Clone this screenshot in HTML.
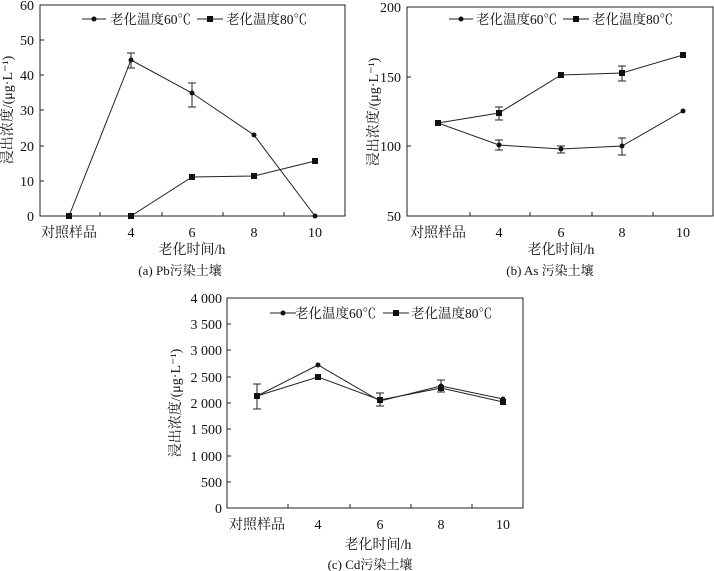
<!DOCTYPE html>
<html><head><meta charset="utf-8"><style>
html,body{margin:0;padding:0;background:#fff;}
svg{display:block;font-family:"Liberation Serif","Noto Serif CJK SC","Noto Sans CJK SC",serif;}
text{fill:#111;}
</style></head><body>
<svg width="714" height="571" viewBox="0 0 714 571" xmlns="http://www.w3.org/2000/svg">
<g stroke="#222" fill="none" stroke-width="1">
<rect x="40" y="5" width="305" height="211"/>
<path d="M40 40h4M40 75h4M40 110h4M40 146h4M40 181h4M100 216v-4M162 216v-4M223 216v-4M284 216v-4"/>
<polyline points="69,216 131,60 192,93 254,135 315,216"/>
<polyline points="69,216 131,216 192,177 254,176 315,161"/>
<path d="M131,53V68M127,53h8M127,68h8M192,83V107M188,83h8M188,107h8"/>
<rect x="407" y="7" width="306" height="209"/>
<path d="M407 77h4M407 146h4M470 216v-4M530 216v-4M592 216v-4M653 216v-4"/>
<polyline points="438,123 499,145 561,149 622,146 683,111"/>
<polyline points="438,123 499,113 561,75 622,73 683,55"/>
<path d="M499,107V120M495,107h8M495,120h8M499,140V150M495,140h8M495,150h8M561,146V153M557,146h8M557,153h8M622,138V155M618,138h8M618,155h8M622,66V81M618,66h8M618,81h8"/>
<rect x="227" y="298" width="296" height="210"/>
<path d="M227 324h4M227 350h4M227 377h4M227 403h4M227 429h4M227 456h4M227 482h4M288 508v-4M350 508v-4M411 508v-4M472 508v-4"/>
<polyline points="257,396 318,365 380,401 441,386 503,399"/>
<polyline points="257,396 318,377 380,400 441,388 503,402"/>
<path d="M257,384V409M253,384h8M253,409h8M380,393V406M376,393h8M376,406h8M441,380V392M437,380h8M437,392h8"/>
<path d="M82 19h24M197 19h26M449 19h24M563 19h26M270 313h26M383 313h26"/>
</g>
<g fill="#111">
<circle cx="69" cy="216" r="2.5"/><circle cx="131" cy="60" r="2.5"/><circle cx="192" cy="93" r="2.5"/><circle cx="254" cy="135" r="2.5"/><circle cx="315" cy="216" r="2.5"/>
<rect x="66" y="213" width="6" height="6"/><rect x="128" y="213" width="6" height="6"/><rect x="189" y="174" width="6" height="6"/><rect x="251" y="173" width="6" height="6"/><rect x="312" y="158" width="6" height="6"/>
<circle cx="94" cy="19" r="2.5"/><rect x="207" y="16" width="6" height="6"/>
<circle cx="438" cy="123" r="2.5"/><circle cx="499" cy="145" r="2.5"/><circle cx="561" cy="149" r="2.5"/><circle cx="622" cy="146" r="2.5"/><circle cx="683" cy="111" r="2.5"/>
<rect x="435" y="120" width="6" height="6"/><rect x="496" y="110" width="6" height="6"/><rect x="558" y="72" width="6" height="6"/><rect x="619" y="70" width="6" height="6"/><rect x="680" y="52" width="6" height="6"/>
<circle cx="461" cy="19" r="2.5"/><rect x="573" y="16" width="6" height="6"/>
<circle cx="257" cy="396" r="2.5"/><circle cx="318" cy="365" r="2.5"/><circle cx="380" cy="401" r="2.5"/><circle cx="441" cy="386" r="2.5"/><circle cx="503" cy="399" r="2.5"/>
<rect x="254" y="393" width="6" height="6"/><rect x="315" y="374" width="6" height="6"/><rect x="377" y="397" width="6" height="6"/><rect x="438" y="385" width="6" height="6"/><rect x="500" y="399" width="6" height="6"/>
<circle cx="283" cy="313" r="2.5"/><rect x="393" y="310" width="6" height="6"/>
</g>
<g font-size="13.5">
<text x="110" y="24">老化温度60℃</text><text x="226" y="24">老化温度80℃</text>
<text x="476" y="24">老化温度60℃</text><text x="592" y="24">老化温度80℃</text>
<text x="295" y="318">老化温度60℃</text><text x="411" y="318">老化温度80℃</text>
</g>
<g font-size="14" text-anchor="end">
<text x="34" y="10">60</text><text x="34" y="45">50</text><text x="34" y="80">40</text><text x="34" y="115">30</text><text x="34" y="151">20</text><text x="34" y="186">10</text><text x="34" y="221">0</text>
<text x="401" y="12">200</text><text x="401" y="82">150</text><text x="401" y="151">100</text><text x="401" y="221">50</text>
<text x="222" y="303">4 000</text><text x="222" y="329">3 500</text><text x="222" y="355">3 000</text><text x="222" y="382">2 500</text><text x="222" y="408">2 000</text><text x="222" y="434">1 500</text><text x="222" y="461">1 000</text><text x="222" y="487">500</text><text x="222" y="513">0</text>
</g>
<g font-size="14" text-anchor="middle">
<text x="69" y="237">对照样品</text><text x="131" y="237">4</text><text x="192" y="237">6</text><text x="254" y="237">8</text><text x="315" y="237">10</text>
<text x="192" y="254">老化时间/h</text><text x="180" y="275" font-size="13">(a) Pb污染土壤</text>
<text x="438" y="237">对照样品</text><text x="499" y="237">4</text><text x="561" y="237">6</text><text x="622" y="237">8</text><text x="683" y="237">10</text>
<text x="561" y="254">老化时间/h</text><text x="550" y="275" font-size="13">(b) As 污染土壤</text>
<text x="257" y="529">对照样品</text><text x="318" y="529">4</text><text x="380" y="529">6</text><text x="441" y="529">8</text><text x="503" y="529">10</text>
<text x="378" y="549">老化时间/h</text><text x="370" y="569" font-size="13">(c) Cd污染土壤</text>
<text transform="translate(12,110) rotate(-90)">浸出浓度/(μg·L⁻¹)</text>
<text transform="translate(378,112) rotate(-90)">浸出浓度/(μg·L⁻¹)</text>
<text transform="translate(180,403) rotate(-90)">浸出浓度/(μg·L⁻¹)</text>
</g>
</svg>
</body></html>
